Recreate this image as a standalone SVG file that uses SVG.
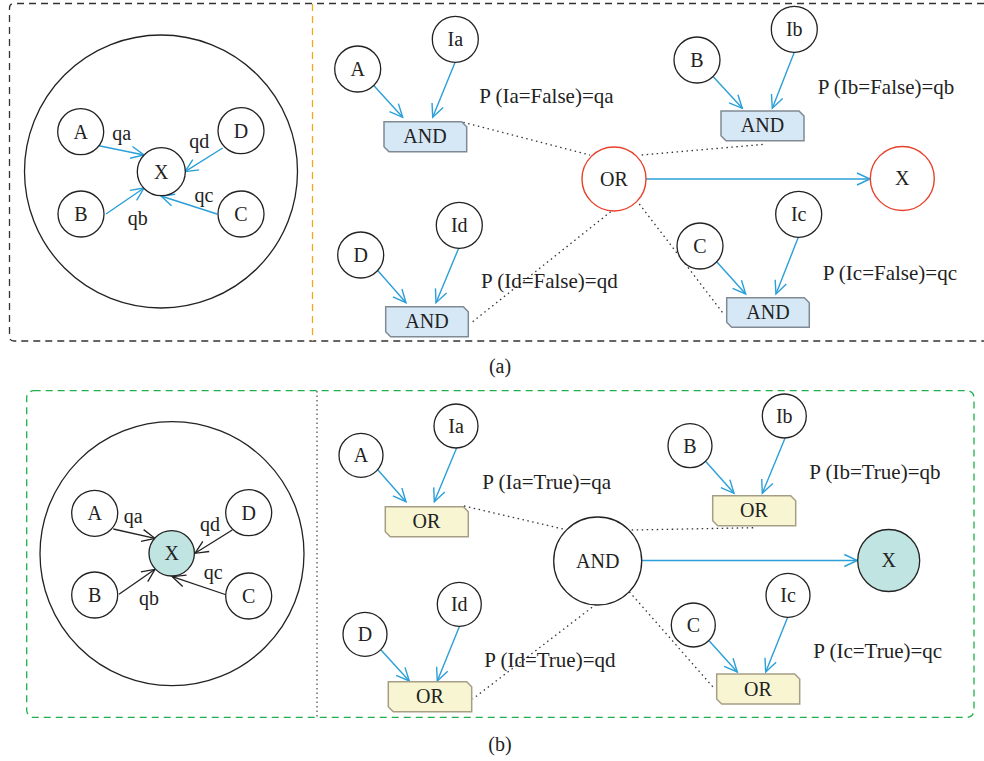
<svg xmlns="http://www.w3.org/2000/svg" width="984" height="761" viewBox="0 0 984 761">
<style>
text{font-family:"Liberation Serif","Times New Roman",serif;font-size:20px;fill:#222}
.m{text-anchor:middle}
.p{font-size:21px}
.n{fill:#fff;stroke:#222;stroke-width:1.3}
.red{fill:#fff;stroke:#e8412c;stroke-width:1.4}
.teal{fill:#bfe4e2;stroke:#222;stroke-width:1.3}
.big{fill:none;stroke:#222;stroke-width:1.3}
.and{fill:#d6e8f6;stroke:#808a94;stroke-width:1.5}
.or{fill:#f8f6d2;stroke:#a59d86;stroke-width:1.5}
.b{stroke:#2a9fd8;stroke-width:1.4;fill:none;marker-end:url(#ab)}
.k{stroke:#222;stroke-width:1.3;fill:none;marker-end:url(#ak)}
.d{stroke:#333;stroke-width:1.3;fill:none;stroke-dasharray:1.5 3.5}
</style>
<defs>
<marker id="ab" markerUnits="userSpaceOnUse" markerWidth="16" markerHeight="14" refX="13" refY="7" orient="auto" overflow="visible"><path d="M0,1 L13,7 L0,13" fill="none" stroke="#2a9fd8" stroke-width="1.4"/></marker>
<marker id="ak" markerUnits="userSpaceOnUse" markerWidth="16" markerHeight="14" refX="13" refY="7" orient="auto" overflow="visible"><path d="M0,1 L13,7 L0,13" fill="none" stroke="#222" stroke-width="1.3"/></marker>
</defs>

<g id="frames">
<path d="M984,3.5 H14 Q9.5,3.5 9.5,8 V336.5 Q9.5,341 14,341 H984" fill="none" stroke="#333" stroke-width="1.3" stroke-dasharray="7 5"/>
<line x1="312.5" y1="4" x2="312.5" y2="341" stroke="#f0a820" stroke-width="1.3" stroke-dasharray="7 5"/>
<rect x="26.7" y="390.7" width="947.3" height="326.6" rx="7" fill="none" stroke="#1fb04c" stroke-width="1.3" stroke-dasharray="7 5"/>
<line x1="317" y1="391" x2="317" y2="717" stroke="#555" stroke-width="1.3" stroke-dasharray="1.5 3"/>
<text class="m" x="500" y="373">(a)</text>
<text class="m" x="500" y="751">(b)</text>
</g>

<g id="connectors">
<line class="b" x1="99" y1="145.7" x2="144" y2="155"/>
<line class="b" x1="222.7" y1="148" x2="185" y2="171.7"/>
<line class="b" x1="106" y1="214" x2="144" y2="188"/>
<line class="b" x1="217" y1="214" x2="161" y2="196"/>
<line class="b" x1="373.3" y1="85" x2="402.7" y2="117.3"/>
<line class="b" x1="455.3" y1="61.7" x2="432.7" y2="117.3"/>
<line class="b" x1="377.3" y1="270" x2="406" y2="302.7"/>
<line class="b" x1="459.3" y1="246.7" x2="436" y2="302.7"/>
<line class="b" x1="713.3" y1="76.7" x2="742.3" y2="108.3"/>
<line class="b" x1="794.3" y1="52.3" x2="772.3" y2="108.3"/>
<line class="b" x1="716.7" y1="261.7" x2="745.7" y2="294"/>
<line class="b" x1="798.3" y1="237.3" x2="776" y2="294"/>
<line class="b" x1="646" y1="179" x2="870" y2="179"/>
<line class="d" x1="463.3" y1="122.3" x2="590" y2="155"/>
<line class="d" x1="610.7" y1="211.7" x2="472.7" y2="321.7"/>
<line class="d" x1="641.7" y1="155" x2="764.3" y2="144.3"/>
<line class="d" x1="639.3" y1="204" x2="722.7" y2="312.7"/>
<line class="k" x1="113.3" y1="529" x2="155" y2="538.3"/>
<line class="k" x1="232.3" y1="530" x2="195" y2="553.3"/>
<line class="k" x1="119" y1="594.3" x2="155" y2="569.3"/>
<line class="k" x1="226.7" y1="595" x2="172.3" y2="576.7"/>
<line class="b" x1="377.3" y1="469.3" x2="406" y2="501.7"/>
<line class="b" x1="456.7" y1="447.7" x2="434.3" y2="501.7"/>
<line class="b" x1="381" y1="650" x2="409.3" y2="681"/>
<line class="b" x1="459.3" y1="626.7" x2="437.3" y2="681"/>
<line class="b" x1="706" y1="461.7" x2="734" y2="493.3"/>
<line class="b" x1="785" y1="438.3" x2="762.3" y2="493.3"/>
<line class="b" x1="709.3" y1="641" x2="737.3" y2="672"/>
<line class="b" x1="787.7" y1="617.3" x2="765.7" y2="672"/>
<line class="b" x1="642" y1="560.5" x2="857.3" y2="560.5"/>
<line class="d" x1="464" y1="506" x2="564.3" y2="529.3"/>
<line class="d" x1="596" y1="604.3" x2="472.7" y2="699"/>
<line class="d" x1="631.7" y1="530" x2="755" y2="527.7"/>
<line class="d" x1="629.3" y1="591.7" x2="715" y2="689.3"/>
</g>

<g id="a-outer"><circle class="big" cx="161" cy="171.5" r="136.5"/></g>
<g id="a-A"><circle class="n" cx="80.7" cy="131.7" r="23"/><text class="m" x="80.7" y="138.5">A</text></g>
<g id="a-D"><circle class="n" cx="241" cy="130.7" r="23"/><text class="m" x="241" y="137.5">D</text></g>
<g id="a-B"><circle class="n" cx="81" cy="214" r="23"/><text class="m" x="81" y="220.8">B</text></g>
<g id="a-C"><circle class="n" cx="241" cy="214" r="23"/><text class="m" x="241" y="220.8">C</text></g>
<g id="a-X"><circle class="n" cx="161.3" cy="171.7" r="24"/><text class="m" x="161.3" y="178.5">X</text></g>
<g id="a-labels">
<text class="m" x="121.7" y="140">qa</text>
<text class="m" x="199.3" y="148.3">qd</text>
<text class="m" x="137.7" y="225">qb</text>
<text class="m" x="204" y="201.7">qc</text>
</g>

<g id="a-A2"><circle class="n" cx="357.7" cy="69" r="23"/><text class="m" x="357.7" y="75.8">A</text></g>
<g id="a-Ia"><circle class="n" cx="455.3" cy="39.3" r="23"/><text class="m" x="455.3" y="46.1">Ia</text></g>
<g id="a-AND1"><path class="and" d="M384,121.7 H461.7 L466.7,126.7 V151.7 H389 L384,146.7 Z"/><text class="m" x="425" y="142.5">AND</text></g>
<text class="p" x="479.3" y="103.3">P (Ia=False)=qa</text>

<g id="a-D2"><circle class="n" cx="360.7" cy="255" r="23"/><text class="m" x="360.7" y="261.8">D</text></g>
<g id="a-Id"><circle class="n" cx="459.3" cy="225.3" r="23"/><text class="m" x="459.3" y="232.1">Id</text></g>
<g id="a-AND4"><path class="and" d="M385.7,306.7 H463.3 L468.3,311.7 V336.7 H390.7 L385.7,331.7 Z"/><text class="m" x="427" y="327.5">AND</text></g>
<text class="p" x="481" y="288.3">P (Id=False)=qd</text>

<g id="a-OR"><circle class="red" cx="614" cy="179" r="32"/><text class="m" x="614" y="185.8">OR</text></g>
<g id="a-Xout"><circle class="red" cx="902.3" cy="178.5" r="32"/><text class="m" x="902.3" y="185.3">X</text></g>

<g id="a-B2"><circle class="n" cx="697" cy="60" r="23"/><text class="m" x="697" y="66.8">B</text></g>
<g id="a-Ib"><circle class="n" cx="794.3" cy="29.3" r="23"/><text class="m" x="794.3" y="36.1">Ib</text></g>
<g id="a-AND2"><path class="and" d="M721,111 H799 L804,116 V140.7 H726 L721,135.7 Z"/><text class="m" x="762.5" y="132">AND</text></g>
<text class="p" x="817.7" y="94.3">P (Ib=False)=qb</text>

<g id="a-C2"><circle class="n" cx="700" cy="246" r="23"/><text class="m" x="700" y="252.8">C</text></g>
<g id="a-Ic"><circle class="n" cx="798.7" cy="214.3" r="23"/><text class="m" x="798.7" y="221.1">Ic</text></g>
<g id="a-AND3"><path class="and" d="M726.7,297.7 H804.3 L809.3,302.7 V327.3 H731.7 L726.7,322.3 Z"/><text class="m" x="768" y="318.5">AND</text></g>
<text class="p" x="822.7" y="280">P (Ic=False)=qc</text>

<g id="b-outer"><circle class="big" cx="172" cy="553.7" r="132"/></g>
<g id="b-A"><circle class="n" cx="94.7" cy="513.3" r="23"/><text class="m" x="94.7" y="520.1">A</text></g>
<g id="b-D"><circle class="n" cx="248.7" cy="512.7" r="23"/><text class="m" x="248.7" y="519.5">D</text></g>
<g id="b-B"><circle class="n" cx="94.7" cy="595" r="23"/><text class="m" x="94.7" y="601.8">B</text></g>
<g id="b-C"><circle class="n" cx="248.7" cy="596" r="23"/><text class="m" x="248.7" y="602.8">C</text></g>
<g id="b-X"><circle class="teal" cx="171.7" cy="553.3" r="22.7"/><text class="m" x="171.7" y="560.1">X</text></g>
<g id="b-labels">
<text class="m" x="133.3" y="522.7">qa</text>
<text class="m" x="210" y="531">qd</text>
<text class="m" x="149" y="605">qb</text>
<text class="m" x="213.3" y="579.3">qc</text>
</g>

<g id="b-A2"><circle class="n" cx="361" cy="455.3" r="22"/><text class="m" x="361" y="462.1">A</text></g>
<g id="b-Ia"><circle class="n" cx="456" cy="426" r="22"/><text class="m" x="456" y="432.8">Ia</text></g>
<g id="b-OR1"><path class="or" d="M385.3,506.7 H463.3 L468.3,511.7 V536.7 H390.3 L385.3,531.7 Z"/><text class="m" x="426.5" y="528">OR</text></g>
<text class="p" x="482.3" y="489">P (Ia=True)=qa</text>

<g id="b-D2"><circle class="n" cx="365" cy="634.3" r="22"/><text class="m" x="365" y="641.1">D</text></g>
<g id="b-Id"><circle class="n" cx="459.3" cy="604.3" r="22"/><text class="m" x="459.3" y="611.1">Id</text></g>
<g id="b-OR4"><path class="or" d="M388.3,681.7 H466.7 L471.7,686.7 V711.7 H393.3 L388.3,706.7 Z"/><text class="m" x="430" y="703">OR</text></g>
<text class="p" x="484.3" y="667.3">P (Id=True)=qd</text>

<g id="b-AND"><circle class="n" cx="597.7" cy="561" r="44"/><text class="m" x="597.7" y="567.8">AND</text></g>
<g id="b-Xout"><circle class="teal" cx="888.7" cy="560.5" r="31"/><text class="m" x="888.7" y="567.3">X</text></g>

<g id="b-B2"><circle class="n" cx="690" cy="445.7" r="22"/><text class="m" x="690" y="452.5">B</text></g>
<g id="b-Ib"><circle class="n" cx="784.3" cy="416" r="22"/><text class="m" x="784.3" y="422.8">Ib</text></g>
<g id="b-OR2"><path class="or" d="M712.7,495.7 H790.7 L795.7,500.7 V525.7 H717.7 L712.7,520.7 Z"/><text class="m" x="754" y="517">OR</text></g>
<text class="p" x="809.3" y="479">P (Ib=True)=qb</text>

<g id="b-C2"><circle class="n" cx="693.3" cy="625" r="22"/><text class="m" x="693.3" y="631.8">C</text></g>
<g id="b-Ic"><circle class="n" cx="788" cy="595.3" r="22"/><text class="m" x="788" y="602.1">Ic</text></g>
<g id="b-OR3"><path class="or" d="M716.7,674 H794.7 L799.7,679 V704 H721.7 L716.7,699 Z"/><text class="m" x="758" y="695.5">OR</text></g>
<text class="p" x="813.3" y="658.3">P (Ic=True)=qc</text>
</svg>
